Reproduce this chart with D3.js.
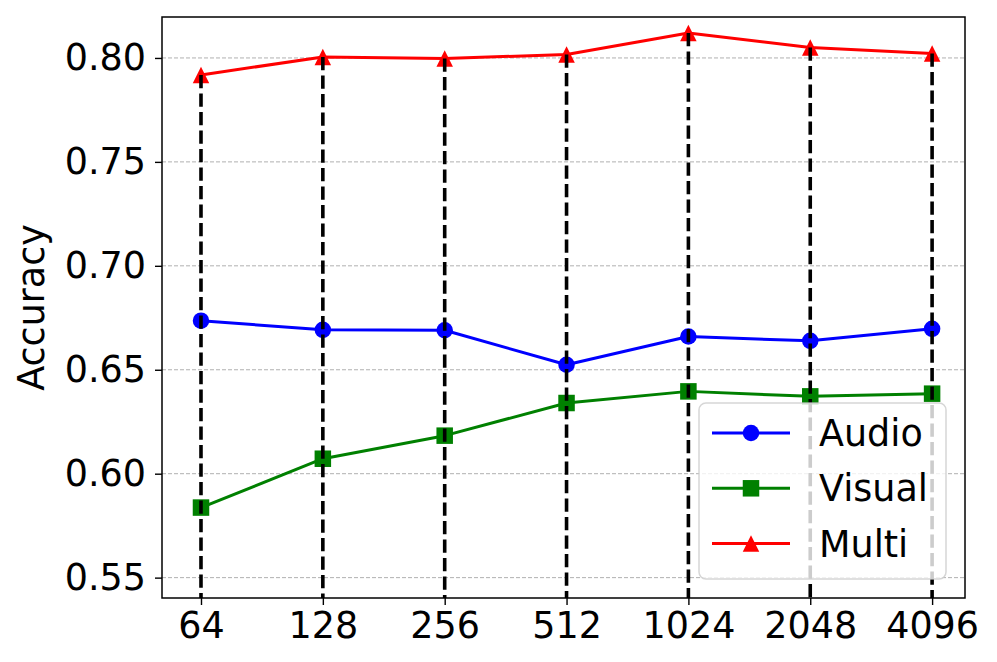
<!DOCTYPE html>
<html>
<head>
<meta charset="utf-8">
<script src="https://cdn.jsdelivr.net/npm/d3@7"></script>
<style>
  body { margin: 0; background: #fff; }
  svg { display: block; font-family: "DejaVu Sans", sans-serif; }
</style>
</head>
<body>
<svg width="997" height="662"></svg>
<script>
// memory sizes on the x axis
var sizes = ["64", "128", "256", "512", "1024", "2048", "4096"];

var audio  = [0.6736, 0.6692, 0.6690, 0.6524, 0.6660, 0.6639, 0.6697];
var visual = [0.5837, 0.6072, 0.6183, 0.6340, 0.6396, 0.6372, 0.6385];
var multi  = [0.7918, 0.8005, 0.7997, 0.8017, 0.8120, 0.8050, 0.8022];

var yTicks = [0.55, 0.60, 0.65, 0.70, 0.75, 0.80];

var series = [
  { name: "Audio",  values: audio,  color: "#0000ff", marker: "circle" },
  { name: "Visual", values: visual, color: "#008000", marker: "square" },
  { name: "Multi",  values: multi,  color: "#ff0000", marker: "triangle" }
];

var pLeft = 162, pRight = 965, pTop = 17, pBottom = 598;
var fs = 36.5;

var svg = d3.select("svg");

var x = d3.scaleLinear().domain([-0.32, 6.27]).range([pLeft, pRight]);
var y = d3.scaleLinear().domain([0.5402, 0.8197]).range([pBottom, pTop]);

// grid
svg.append("g").selectAll("line")
    .data(yTicks)
  .enter().append("line")
    .attr("x1", pLeft).attr("x2", pRight)
    .attr("y1", function(d) { return y(d); })
    .attr("y2", function(d) { return y(d); })
    .attr("stroke", "#b0b0b0")
    .attr("stroke-width", 1)
    .attr("stroke-dasharray", "4,2");

// marker shapes, sized like matplotlib markersize 8 at 150 dpi
function marker(g, type, cx, cy, color) {
  var s = 16.5;
  if (type === "circle") {
    g.append("circle").attr("cx", cx).attr("cy", cy).attr("r", s / 2).attr("fill", color);
  } else if (type === "square") {
    g.append("rect").attr("x", cx - s / 2).attr("y", cy - s / 2)
      .attr("width", s).attr("height", s).attr("fill", color);
  } else {
    var h = s / 2;
    g.append("path")
      .attr("d", "M" + cx + "," + (cy - h) + "L" + (cx + h) + "," + (cy + h) + "L" + (cx - h) + "," + (cy + h) + "Z")
      .attr("fill", color);
  }
}

var line = d3.line()
    .x(function(d, i) { return x(i); })
    .y(function(d) { return y(d); });

series.forEach(function(s) {
  var g = svg.append("g");
  g.append("path")
    .attr("d", line(s.values))
    .attr("fill", "none")
    .attr("stroke", s.color)
    .attr("stroke-width", 3)
    .attr("stroke-linejoin", "round");
  s.values.forEach(function(v, i) { marker(g, s.marker, x(i), y(v), s.color); });
});

// dashed drop lines, drawn from the multi value down to the axis
svg.append("g").selectAll("line")
    .data(multi)
  .enter().append("line")
    .attr("x1", function(d, i) { return x(i); })
    .attr("x2", function(d, i) { return x(i); })
    .attr("y1", function(d) { return y(d); })
    .attr("y2", pBottom)
    .attr("stroke", "#000")
    .attr("stroke-width", 3.6)
    .attr("stroke-dasharray", "13.3,5.2");

// axes
var yAxis = svg.append("g")
    .attr("transform", "translate(" + pLeft + ",0)")
    .call(d3.axisLeft(y).tickValues(yTicks).tickFormat(d3.format(".2f")).tickSize(7).tickPadding(9));

var xAxis = svg.append("g")
    .attr("transform", "translate(0," + pBottom + ")")
    .call(d3.axisBottom(x).tickValues(d3.range(sizes.length))
      .tickFormat(function(i) { return sizes[i]; }).tickSize(7).tickPadding(7));

[xAxis, yAxis].forEach(function(a) {
  a.select(".domain").remove();
  a.selectAll(".tick line").attr("stroke", "#000").attr("stroke-width", 1.4);
  a.selectAll(".tick text").attr("fill", "#000").style("font-size", fs + "px")
    .style("font-family", "'DejaVu Sans', sans-serif");
});

// frame
svg.append("rect")
    .attr("x", pLeft).attr("y", pTop)
    .attr("width", pRight - pLeft).attr("height", pBottom - pTop)
    .attr("fill", "none")
    .attr("stroke", "#000")
    .attr("stroke-width", 1.5);

svg.append("text")
    .attr("transform", "translate(44," + (pTop + pBottom) / 2 + ") rotate(-90)")
    .attr("text-anchor", "middle")
    .style("font-size", fs + "px")
    .text("Accuracy");

// legend
var lg = svg.append("g").attr("transform", "translate(699,403)");
lg.append("rect")
    .attr("width", 247).attr("height", 176)
    .attr("rx", 7)
    .attr("fill", "#fff").attr("fill-opacity", 0.8)
    .attr("stroke", "#cccccc").attr("stroke-opacity", 0.8)
    .attr("stroke-width", 1.5);

series.forEach(function(s, i) {
  var cy = 30 + i * 55.3;
  lg.append("line")
    .attr("x1", 13).attr("x2", 91)
    .attr("y1", cy).attr("y2", cy)
    .attr("stroke", s.color).attr("stroke-width", 3);
  marker(lg, s.marker, 52, cy, s.color);
  lg.append("text")
    .attr("x", 120).attr("y", cy)
    .attr("dy", "0.36em")
    .style("font-size", fs + "px")
    .text(s.name);
});
</script>
</body>
</html>
